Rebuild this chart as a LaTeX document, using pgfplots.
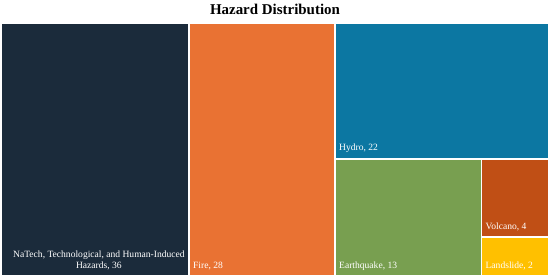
\documentclass[border=0pt]{standalone}
\usepackage{fontspec}
\setmainfont{Liberation Serif}
\usepackage{pgfplots}
\pgfplotsset{compat=1.18}
\definecolor{cNatech}{HTML}{1B2B3B}
\definecolor{cFire}{HTML}{E97233}
\definecolor{cHydro}{HTML}{0C77A2}
\definecolor{cQuake}{HTML}{789F50}
\definecolor{cVolc}{HTML}{C04F15}
\definecolor{cSlide}{HTML}{FFC000}
\tikzset{lbl/.style={anchor=south west, text=white, font=\fontsize{9.6}{11.5}\selectfont, inner sep=0pt, xshift=4bp, yshift=5.5bp}}
\begin{document}
\begin{tikzpicture}
  \useasboundingbox (-1bp,-4bp) rectangle (549bp,276bp);
  % squarified layout, total = 105 (36+28+22+13+4+2)
  \begin{axis}[
      at={(0,0)}, anchor=south west,
      width=548bp, height=253bp, scale only axis,
      xmin=0, xmax=1, ymin=0, ymax=1,
      hide axis, clip=false,
      every axis plot/.append style={draw=white, line width=1.6bp},
    ]
    \addplot[fill=cNatech] coordinates {(0,0) (0.3429,0) (0.3429,1) (0,1)} -- cycle;
    \addplot[fill=cFire]   coordinates {(0.3429,0) (0.6095,0) (0.6095,1) (0.3429,1)} -- cycle;
    \addplot[fill=cHydro]  coordinates {(0.6095,0.4634) (1,0.4634) (1,1) (0.6095,1)} -- cycle;
    \addplot[fill=cQuake]  coordinates {(0.6095,0) (0.8767,0) (0.8767,0.4634) (0.6095,0.4634)} -- cycle;
    \addplot[fill=cVolc]   coordinates {(0.8767,0.1545) (1,0.1545) (1,0.4634) (0.8767,0.4634)} -- cycle;
    \addplot[fill=cSlide]  coordinates {(0.8767,0) (1,0) (1,0.1545) (0.8767,0.1545)} -- cycle;
    \node[anchor=base, inner sep=0pt, yshift=8.5bp, font=\fontsize{15}{17}\selectfont\bfseries]
      at (rel axis cs:0.5,1) {Hazard Distribution};
    \node[lbl, align=center, anchor=south, xshift=0pt] at (axis cs:0.1714,0)
      {NaTech, Technological, and Human-Induced\\Hazards, 36};
    \node[lbl] at (axis cs:0.3429,0) {Fire, 28};
    \node[lbl] at (axis cs:0.6095,0.4634) {Hydro, 22};
    \node[lbl] at (axis cs:0.6095,0) {Earthquake, 13};
    \node[lbl] at (axis cs:0.8767,0.1545) {Volcano, 4};
    \node[lbl] at (axis cs:0.8767,0) {Landslide, 2};
  \end{axis}
\end{tikzpicture}
\end{document}
